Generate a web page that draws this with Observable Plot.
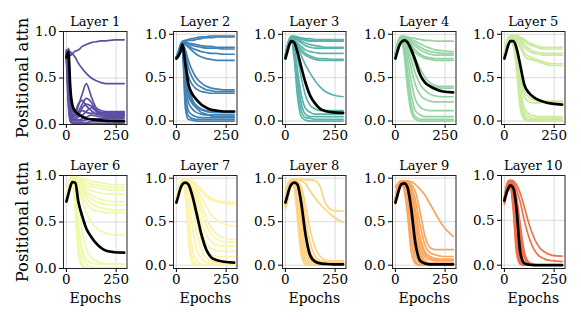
<!DOCTYPE html>
<html><head><meta charset="utf-8">
<script src="https://cdn.jsdelivr.net/npm/d3@7"></script>
<script src="https://cdn.jsdelivr.net/npm/@observablehq/plot@0.6"></script>
<style>
html,body{margin:0;padding:0;background:#fff;}
#chart{position:relative;width:581px;height:323px;overflow:hidden;background:#fff;}
#chart svg{position:absolute;}
</style></head><body><div id="chart"></div>
<script>
const epochs = [0,10,20,30,45,60,80,100,125,150,175,200,240,290];
const layerTitles = ["Layer 1","Layer 2","Layer 3","Layer 4","Layer 5","Layer 6","Layer 7","Layer 8","Layer 9","Layer 10"];
const xTicks = [0, 250];
const yTicks = [0, 0.5, 1];

const layer1Heads = [
[0.72,0.82,0.74,0.76,0.79,0.80,0.84,0.86,0.88,0.89,0.90,0.90,0.91,0.91],
[0.75,0.80,0.78,0.76,0.72,0.66,0.60,0.55,0.50,0.47,0.45,0.44,0.44,0.44],
[0.74,0.78,0.40,0.15,0.12,0.20,0.33,0.44,0.30,0.18,0.15,0.14,0.14,0.14],
[0.78,0.70,0.25,0.12,0.10,0.14,0.22,0.28,0.24,0.15,0.13,0.13,0.13,0.13],
[0.80,0.60,0.20,0.10,0.08,0.10,0.18,0.22,0.20,0.16,0.12,0.11,0.11,0.11],
[0.76,0.50,0.15,0.08,0.06,0.08,0.10,0.14,0.18,0.14,0.10,0.09,0.09,0.09],
[0.70,0.45,0.12,0.06,0.05,0.05,0.06,0.08,0.10,0.09,0.08,0.08,0.08,0.08],
[0.80,0.40,0.10,0.05,0.04,0.04,0.04,0.05,0.06,0.06,0.06,0.06,0.06,0.06],
[0.75,0.30,0.06,0.03,0.02,0.02,0.02,0.02,0.03,0.03,0.03,0.03,0.03,0.03],
[0.70,0.25,0.04,0.02,0.01,0.01,0.01,0.01,0.01,0.01,0.01,0.01,0.01,0.01],
[0.78,0.20,0.03,0.01,0.00,0.00,0.00,0.00,0.00,0.00,0.00,0.00,0.00,0.00],
[0.72,0.55,0.20,0.10,0.10,0.13,0.15,0.13,0.12,0.12,0.12,0.12,0.12,0.12],
[0.76,0.65,0.30,0.18,0.15,0.22,0.26,0.20,0.15,0.11,0.10,0.10,0.10,0.10]
];
const layer1Mean = [0.72,0.78,0.38,0.21,0.14,0.11,0.085,0.065,0.055,0.05,0.045,0.04,0.037,0.035];

const layer2Heads = [
[0.74,0.80,0.88,0.92,0.93,0.94,0.95,0.96,0.97,0.97,0.98,0.98,0.98,0.98],
[0.73,0.79,0.87,0.91,0.92,0.93,0.93,0.94,0.95,0.96,0.96,0.97,0.97,0.97],
[0.72,0.78,0.86,0.90,0.91,0.90,0.89,0.88,0.87,0.86,0.86,0.85,0.85,0.85],
[0.74,0.80,0.87,0.91,0.90,0.89,0.87,0.86,0.85,0.84,0.84,0.84,0.83,0.83],
[0.73,0.79,0.86,0.90,0.89,0.87,0.84,0.82,0.80,0.79,0.78,0.78,0.77,0.77],
[0.72,0.78,0.85,0.90,0.88,0.85,0.81,0.77,0.74,0.72,0.71,0.70,0.70,0.70],
[0.73,0.78,0.85,0.89,0.82,0.70,0.58,0.50,0.44,0.40,0.38,0.37,0.36,0.36],
[0.72,0.77,0.84,0.88,0.78,0.62,0.50,0.43,0.39,0.36,0.35,0.34,0.34,0.34],
[0.74,0.78,0.84,0.87,0.70,0.52,0.42,0.37,0.34,0.33,0.32,0.32,0.32,0.32],
[0.72,0.76,0.82,0.85,0.55,0.30,0.20,0.16,0.13,0.11,0.10,0.10,0.10,0.10],
[0.73,0.77,0.83,0.86,0.45,0.22,0.14,0.10,0.08,0.07,0.07,0.07,0.07,0.07],
[0.72,0.75,0.80,0.84,0.35,0.12,0.07,0.05,0.04,0.04,0.04,0.04,0.04,0.04],
[0.73,0.76,0.82,0.83,0.25,0.06,0.03,0.02,0.02,0.02,0.02,0.02,0.02,0.02],
[0.74,0.77,0.80,0.80,0.15,0.02,0.01,0.00,0.00,0.00,0.00,0.00,0.00,0.00],
[0.72,0.75,0.80,0.82,0.60,0.35,0.22,0.15,0.10,0.08,0.06,0.05,0.05,0.05],
[0.72,0.76,0.83,0.87,0.65,0.40,0.25,0.18,0.14,0.12,0.11,0.10,0.10,0.10]
];
const layer2Mean = [0.72,0.75,0.80,0.88,0.66,0.43,0.31,0.25,0.19,0.155,0.13,0.12,0.11,0.11];

const layer3Heads = [
[0.78,0.88,0.95,0.98,0.98,0.97,0.96,0.95,0.95,0.94,0.94,0.94,0.94,0.94],
[0.76,0.86,0.94,0.97,0.97,0.96,0.95,0.94,0.93,0.93,0.93,0.93,0.93,0.93],
[0.74,0.85,0.93,0.97,0.96,0.95,0.94,0.93,0.92,0.92,0.92,0.92,0.92,0.92],
[0.76,0.86,0.94,0.97,0.96,0.94,0.92,0.90,0.88,0.87,0.86,0.85,0.85,0.85],
[0.75,0.85,0.93,0.96,0.95,0.93,0.90,0.87,0.85,0.84,0.84,0.84,0.84,0.84],
[0.74,0.84,0.92,0.96,0.94,0.90,0.86,0.82,0.80,0.79,0.78,0.78,0.78,0.78],
[0.75,0.85,0.93,0.96,0.93,0.88,0.83,0.78,0.75,0.73,0.72,0.72,0.71,0.71],
[0.73,0.84,0.92,0.95,0.92,0.86,0.80,0.76,0.73,0.71,0.70,0.70,0.70,0.70],
[0.75,0.85,0.93,0.96,0.92,0.85,0.75,0.65,0.55,0.46,0.39,0.34,0.30,0.28],
[0.74,0.84,0.92,0.95,0.90,0.75,0.50,0.30,0.18,0.14,0.12,0.12,0.12,0.12],
[0.73,0.83,0.90,0.94,0.85,0.60,0.30,0.15,0.10,0.08,0.08,0.08,0.08,0.08],
[0.75,0.84,0.91,0.94,0.80,0.50,0.20,0.08,0.05,0.05,0.05,0.05,0.05,0.05],
[0.74,0.83,0.90,0.93,0.75,0.40,0.12,0.04,0.03,0.02,0.02,0.02,0.02,0.02],
[0.73,0.83,0.90,0.92,0.70,0.30,0.05,0.01,0.00,0.00,0.00,0.00,0.00,0.00]
];
const layer3Mean = [0.72,0.80,0.88,0.92,0.90,0.80,0.62,0.45,0.29,0.20,0.14,0.115,0.10,0.095];

const layer4Heads = [
[0.80,0.90,0.96,0.98,0.98,0.97,0.96,0.95,0.94,0.93,0.93,0.92,0.92,0.92],
[0.78,0.88,0.95,0.97,0.97,0.96,0.94,0.92,0.89,0.86,0.84,0.82,0.81,0.80],
[0.77,0.87,0.94,0.97,0.96,0.95,0.92,0.89,0.85,0.82,0.80,0.79,0.78,0.78],
[0.78,0.88,0.95,0.97,0.96,0.94,0.90,0.86,0.82,0.79,0.77,0.76,0.76,0.76],
[0.76,0.86,0.93,0.96,0.95,0.92,0.87,0.82,0.77,0.74,0.73,0.72,0.72,0.72],
[0.77,0.87,0.94,0.96,0.95,0.91,0.85,0.79,0.75,0.72,0.71,0.70,0.70,0.70],
[0.78,0.88,0.94,0.96,0.94,0.90,0.82,0.72,0.60,0.50,0.44,0.41,0.40,0.40],
[0.76,0.86,0.93,0.95,0.93,0.88,0.78,0.65,0.52,0.45,0.41,0.39,0.38,0.38],
[0.77,0.87,0.93,0.95,0.92,0.85,0.70,0.55,0.42,0.35,0.31,0.29,0.28,0.28],
[0.76,0.86,0.92,0.95,0.90,0.80,0.60,0.42,0.30,0.25,0.23,0.22,0.22,0.22],
[0.75,0.85,0.92,0.94,0.88,0.72,0.45,0.25,0.16,0.13,0.12,0.12,0.12,0.12],
[0.76,0.85,0.91,0.94,0.85,0.60,0.30,0.12,0.07,0.05,0.05,0.05,0.05,0.05],
[0.75,0.84,0.90,0.93,0.80,0.50,0.18,0.05,0.02,0.02,0.02,0.02,0.02,0.02],
[0.74,0.84,0.90,0.92,0.75,0.40,0.10,0.02,0.00,0.00,0.00,0.00,0.00,0.00]
];
const layer4Mean = [0.72,0.80,0.87,0.91,0.93,0.91,0.82,0.70,0.53,0.44,0.40,0.37,0.34,0.33];

const layer5Heads = [
[0.78,0.90,0.96,0.98,0.99,0.99,0.97,0.94,0.90,0.88,0.86,0.85,0.85,0.85],
[0.77,0.89,0.95,0.98,0.98,0.98,0.96,0.92,0.88,0.86,0.84,0.83,0.83,0.83],
[0.76,0.88,0.95,0.97,0.98,0.97,0.94,0.88,0.83,0.80,0.79,0.78,0.78,0.78],
[0.78,0.89,0.95,0.97,0.97,0.96,0.92,0.85,0.80,0.78,0.77,0.76,0.76,0.76],
[0.76,0.87,0.94,0.97,0.97,0.95,0.88,0.79,0.74,0.72,0.70,0.68,0.66,0.66],
[0.77,0.88,0.94,0.96,0.96,0.93,0.85,0.75,0.71,0.70,0.68,0.66,0.64,0.64],
[0.76,0.87,0.94,0.96,0.95,0.88,0.60,0.35,0.27,0.24,0.23,0.23,0.23,0.23],
[0.75,0.86,0.93,0.96,0.94,0.85,0.50,0.28,0.22,0.21,0.21,0.22,0.22,0.22],
[0.76,0.87,0.93,0.95,0.93,0.80,0.40,0.15,0.08,0.06,0.05,0.05,0.05,0.05],
[0.75,0.86,0.92,0.95,0.92,0.75,0.30,0.10,0.05,0.03,0.03,0.03,0.03,0.03],
[0.74,0.85,0.92,0.94,0.90,0.70,0.25,0.06,0.02,0.02,0.02,0.02,0.02,0.02],
[0.75,0.85,0.91,0.94,0.88,0.65,0.20,0.04,0.01,0.01,0.01,0.01,0.01,0.01],
[0.74,0.84,0.91,0.93,0.86,0.60,0.15,0.02,0.00,0.00,0.00,0.00,0.00,0.00]
];
const layer5Mean = [0.72,0.80,0.88,0.92,0.92,0.85,0.64,0.42,0.32,0.27,0.24,0.22,0.20,0.19];

const layer6Heads = [
[0.80,0.92,0.97,0.99,0.99,0.98,0.97,0.96,0.94,0.93,0.92,0.91,0.90,0.90],
[0.80,0.91,0.96,0.98,0.98,0.97,0.95,0.93,0.91,0.90,0.89,0.88,0.87,0.87],
[0.79,0.90,0.96,0.98,0.98,0.96,0.93,0.90,0.88,0.87,0.86,0.85,0.84,0.84],
[0.78,0.90,0.95,0.98,0.97,0.95,0.91,0.87,0.84,0.82,0.81,0.80,0.80,0.80],
[0.79,0.90,0.95,0.97,0.96,0.93,0.88,0.83,0.79,0.76,0.74,0.73,0.72,0.72],
[0.78,0.89,0.95,0.97,0.96,0.92,0.86,0.80,0.75,0.72,0.70,0.69,0.68,0.68],
[0.78,0.89,0.94,0.97,0.95,0.90,0.83,0.76,0.70,0.67,0.65,0.64,0.63,0.63],
[0.77,0.88,0.93,0.96,0.94,0.87,0.78,0.70,0.64,0.62,0.61,0.60,0.60,0.60],
[0.78,0.88,0.93,0.96,0.93,0.85,0.72,0.60,0.50,0.44,0.40,0.38,0.36,0.36],
[0.76,0.87,0.93,0.95,0.85,0.50,0.15,0.05,0.02,0.01,0.01,0.01,0.01,0.01],
[0.75,0.86,0.92,0.94,0.70,0.30,0.05,0.01,0.00,0.00,0.00,0.00,0.00,0.00],
[0.76,0.86,0.92,0.93,0.60,0.15,0.02,0.00,0.00,0.00,0.00,0.00,0.00,0.00],
[0.75,0.85,0.90,0.92,0.80,0.45,0.20,0.10,0.06,0.05,0.05,0.05,0.05,0.05],
[0.74,0.84,0.90,0.92,0.88,0.70,0.40,0.22,0.12,0.08,0.06,0.05,0.05,0.05]
];
const layer6Mean = [0.72,0.80,0.88,0.93,0.92,0.72,0.56,0.43,0.34,0.27,0.22,0.19,0.175,0.17];

const layer7Heads = [
[0.78,0.90,0.96,0.98,0.99,0.99,0.97,0.93,0.87,0.82,0.77,0.75,0.73,0.72],
[0.77,0.89,0.95,0.98,0.98,0.98,0.96,0.92,0.85,0.79,0.75,0.73,0.71,0.70],
[0.77,0.89,0.95,0.97,0.98,0.97,0.95,0.88,0.78,0.68,0.58,0.52,0.47,0.45],
[0.76,0.88,0.94,0.97,0.97,0.96,0.93,0.85,0.70,0.55,0.43,0.36,0.31,0.29],
[0.77,0.88,0.94,0.97,0.97,0.96,0.90,0.80,0.62,0.46,0.36,0.30,0.27,0.26],
[0.76,0.87,0.94,0.96,0.96,0.94,0.88,0.72,0.50,0.35,0.27,0.23,0.22,0.22],
[0.75,0.87,0.93,0.96,0.96,0.93,0.85,0.65,0.40,0.25,0.19,0.17,0.16,0.16],
[0.76,0.87,0.93,0.96,0.95,0.92,0.80,0.55,0.30,0.17,0.12,0.10,0.10,0.10],
[0.75,0.86,0.92,0.95,0.94,0.88,0.70,0.40,0.18,0.08,0.05,0.04,0.04,0.04],
[0.74,0.86,0.92,0.95,0.93,0.80,0.45,0.20,0.08,0.03,0.02,0.02,0.02,0.02],
[0.75,0.85,0.91,0.94,0.90,0.60,0.20,0.05,0.01,0.00,0.00,0.00,0.00,0.00],
[0.74,0.85,0.91,0.93,0.85,0.40,0.08,0.01,0.00,0.00,0.00,0.00,0.00,0.00],
[0.74,0.84,0.90,0.93,0.80,0.30,0.03,0.00,0.00,0.00,0.00,0.00,0.00,0.00]
];
const layer7Mean = [0.72,0.80,0.88,0.93,0.95,0.93,0.80,0.61,0.36,0.18,0.09,0.06,0.04,0.03];

const layer8Heads = [
[0.80,0.92,0.97,0.98,0.99,0.99,0.99,0.98,0.98,0.97,0.90,0.72,0.63,0.62],
[0.78,0.90,0.96,0.98,0.98,0.98,0.97,0.94,0.85,0.77,0.70,0.64,0.56,0.49],
[0.78,0.90,0.96,0.97,0.97,0.96,0.90,0.70,0.40,0.20,0.10,0.06,0.05,0.05],
[0.77,0.89,0.95,0.97,0.97,0.95,0.85,0.55,0.25,0.10,0.05,0.04,0.04,0.04],
[0.76,0.88,0.94,0.96,0.96,0.93,0.78,0.42,0.15,0.06,0.03,0.03,0.03,0.03],
[0.70,0.82,0.90,0.95,0.96,0.92,0.70,0.30,0.08,0.03,0.02,0.02,0.02,0.02],
[0.68,0.78,0.88,0.94,0.95,0.90,0.60,0.20,0.05,0.01,0.00,0.00,0.00,0.00],
[0.75,0.86,0.93,0.95,0.94,0.85,0.45,0.10,0.02,0.00,0.00,0.00,0.00,0.00],
[0.74,0.85,0.92,0.94,0.92,0.75,0.30,0.05,0.01,0.00,0.00,0.00,0.00,0.00],
[0.74,0.85,0.91,0.93,0.90,0.65,0.20,0.02,0.00,0.00,0.00,0.00,0.00,0.00],
[0.73,0.84,0.90,0.93,0.88,0.55,0.12,0.01,0.00,0.00,0.00,0.00,0.00,0.00],
[0.65,0.72,0.85,0.92,0.94,0.88,0.55,0.18,0.06,0.03,0.02,0.02,0.02,0.02]
];
const layer8Mean = [0.72,0.80,0.88,0.93,0.95,0.93,0.71,0.37,0.11,0.04,0.02,0.015,0.01,0.01];

const layer9Heads = [
[0.78,0.90,0.96,0.97,0.97,0.97,0.96,0.93,0.87,0.80,0.70,0.60,0.45,0.33],
[0.77,0.89,0.95,0.97,0.97,0.96,0.93,0.85,0.60,0.32,0.20,0.18,0.18,0.18],
[0.77,0.88,0.95,0.96,0.96,0.95,0.90,0.75,0.45,0.22,0.14,0.12,0.10,0.10],
[0.76,0.88,0.94,0.96,0.96,0.94,0.88,0.65,0.32,0.15,0.10,0.08,0.07,0.07],
[0.76,0.87,0.94,0.96,0.95,0.93,0.82,0.50,0.20,0.09,0.06,0.05,0.05,0.05],
[0.75,0.87,0.93,0.95,0.95,0.92,0.75,0.38,0.10,0.03,0.02,0.02,0.02,0.02],
[0.75,0.86,0.93,0.95,0.94,0.90,0.65,0.25,0.05,0.01,0.00,0.00,0.00,0.00],
[0.74,0.86,0.92,0.94,0.93,0.85,0.50,0.12,0.02,0.00,0.00,0.00,0.00,0.00],
[0.74,0.85,0.92,0.94,0.90,0.75,0.30,0.05,0.00,0.00,0.00,0.00,0.00,0.00],
[0.73,0.85,0.91,0.93,0.85,0.60,0.15,0.02,0.00,0.00,0.00,0.00,0.00,0.00],
[0.90,0.93,0.95,0.95,0.94,0.92,0.80,0.45,0.15,0.05,0.02,0.02,0.02,0.02],
[0.70,0.80,0.90,0.94,0.95,0.93,0.85,0.60,0.28,0.12,0.08,0.06,0.06,0.06]
];
const layer9Mean = [0.72,0.80,0.88,0.93,0.94,0.90,0.64,0.26,0.05,0.02,0.01,0.01,0.01,0.01];

const layer10Heads = [
[0.75,0.88,0.94,0.95,0.94,0.90,0.80,0.65,0.45,0.30,0.20,0.15,0.11,0.10],
[0.74,0.86,0.92,0.94,0.92,0.85,0.70,0.50,0.30,0.17,0.10,0.07,0.05,0.04],
[0.73,0.85,0.90,0.92,0.88,0.70,0.35,0.10,0.02,0.00,0.00,0.00,0.00,0.00],
[0.72,0.84,0.90,0.91,0.85,0.60,0.20,0.04,0.01,0.00,0.00,0.00,0.00,0.00],
[0.74,0.85,0.90,0.90,0.80,0.50,0.12,0.02,0.00,0.00,0.00,0.00,0.00,0.00],
[0.73,0.84,0.89,0.90,0.75,0.40,0.06,0.01,0.00,0.00,0.00,0.00,0.00,0.00],
[0.72,0.82,0.88,0.89,0.70,0.30,0.03,0.00,0.00,0.00,0.00,0.00,0.00,0.00],
[0.70,0.80,0.86,0.87,0.65,0.22,0.02,0.00,0.00,0.00,0.00,0.00,0.00,0.00],
[0.68,0.78,0.84,0.85,0.60,0.15,0.01,0.00,0.00,0.00,0.00,0.00,0.00,0.00],
[0.75,0.87,0.93,0.94,0.90,0.78,0.45,0.15,0.03,0.01,0.00,0.00,0.00,0.00],
[0.72,0.83,0.88,0.90,0.82,0.55,0.25,0.08,0.02,0.00,0.00,0.00,0.00,0.00]
];
const layer10Mean = [0.72,0.80,0.86,0.89,0.86,0.65,0.14,0.02,0.005,0,0,0,0,0];

const allHeads = [layer1Heads,layer2Heads,layer3Heads,layer4Heads,layer5Heads,layer6Heads,layer7Heads,layer8Heads,layer9Heads,layer10Heads];
const allMeans = [layer1Mean,layer2Mean,layer3Mean,layer4Mean,layer5Mean,layer6Mean,layer7Mean,layer8Mean,layer9Mean,layer10Mean];
const yDomains = [[0,1],[-0.04,1.032],[-0.04,1.032],[-0.04,1.032],[-0.04,1.032],[0,1],[-0.038,1.031],[-0.038,1.031],[-0.038,1.031],[-0.037,1.0]];
const colors = layerTitles.map((_, i) => d3.interpolateSpectral(1 - i * 0.8 / 9));

const FW = 63.5, FH = 93;
const ML = 60, MR = 14, MT = 32, MB = 46;
const frameLeft = [63.3, 172.7, 282.1, 391.5, 500.9];
const frameTop = [30.5, 175];
const FONT = "DejaVu Serif";
const container = document.getElementById("chart");

layerTitles.forEach((title, i) => {
  const col = i % 5, row = Math.floor(i / 5);
  const rows = allHeads[i].flatMap((vals, h) => vals.map((v, j) => ({epoch: epochs[j], value: v, head: h})));
  const meanRows = allMeans[i].map((v, j) => ({epoch: epochs[j], value: v}));
  const marks = [
    Plot.gridX(xTicks, {stroke: "#b0b0b0", strokeOpacity: 0.6, strokeWidth: 0.8}),
    Plot.gridY(yTicks, {stroke: "#b0b0b0", strokeOpacity: 0.6, strokeWidth: 0.8}),
    Plot.lineY(rows, {x: "epoch", y: "value", z: "head", stroke: colors[i], strokeWidth: 1.7, strokeOpacity: 1, curve: "monotone-x", clip: true}),
    Plot.lineY(meanRows, {x: "epoch", y: "value", stroke: "black", strokeWidth: 2.7, curve: "monotone-x", clip: true}),
    Plot.frame({stroke: "#222", strokeWidth: 1}),
    Plot.axisX(xTicks, {tickSize: 4, tickPadding: 1.5, fontSize: 13.5, label: null, fill: "#000"}),
    Plot.axisY(yTicks, {tickSize: 4, tickPadding: 3, tickFormat: d3.format(".1f"), fontSize: 13.5, label: null, fill: "#000"}),
    Plot.text([title], {frameAnchor: "top", textAnchor: "middle", lineAnchor: "bottom", dy: -5.5, fontSize: 13, fill: "#000"})
  ];
  if (col === 0) marks.push(Plot.text(["Positional attn"], {frameAnchor: "left", textAnchor: "middle", lineAnchor: "middle", rotate: -90, dx: -41, fontSize: 16.5, fill: "#000"}));
  if (row === 1) marks.push(Plot.text(["Epochs"], {frameAnchor: "bottom", textAnchor: "middle", lineAnchor: "middle", dy: 30, fontSize: 14, fill: "#000"}));
  const svg = Plot.plot({
    width: FW + ML + MR, height: FH + MT + MB,
    marginLeft: ML, marginRight: MR, marginTop: MT, marginBottom: MB,
    style: {background: "transparent", overflow: "visible", fontFamily: FONT, fontSize: "13.5px", color: "#000"},
    x: {domain: [-14.5, 304.5]},
    y: {domain: yDomains[i]},
    marks
  });
  svg.style.left = (frameLeft[col] - ML) + "px";
  svg.style.top = (frameTop[row] - MT) + "px";
  container.appendChild(svg);
});
</script></body></html>
